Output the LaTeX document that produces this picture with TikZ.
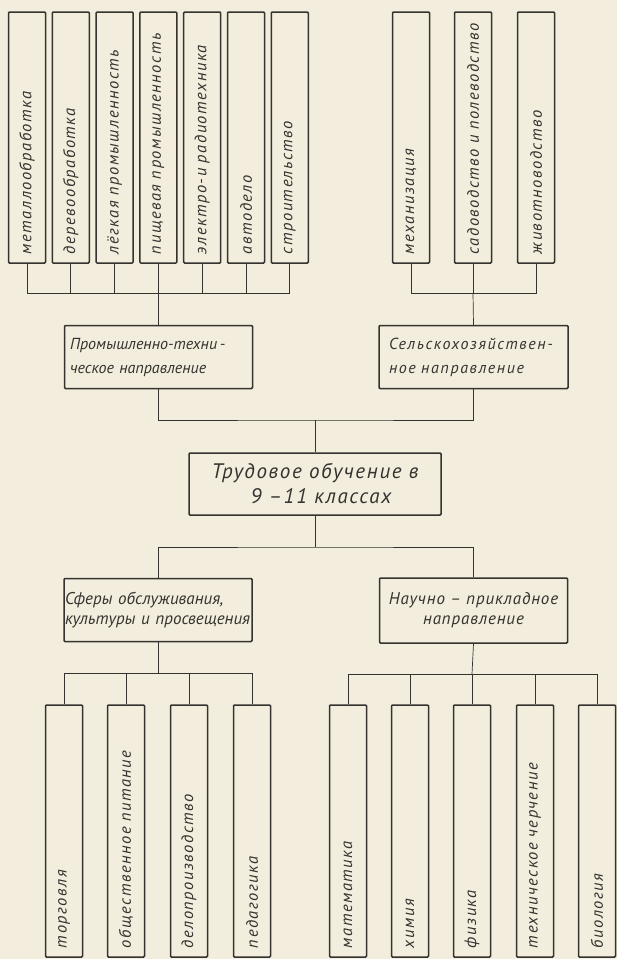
\documentclass[tikz,border=0pt]{standalone}
\usepackage{fontspec}
\newfontfamily\gostfont{PT Sans}
\newfontfamily\gostwide{PT Sans}[LetterSpace=9]
\newfontfamily\gostsel{PT Sans}[LetterSpace=10]
\newfontfamily\gosttrud{PT Sans}[LetterSpace=8]
\newfontfamily\gostnauch{PT Sans}[LetterSpace=5]
\definecolor{paper}{HTML}{F2EDDD}
\definecolor{ink}{HTML}{35332F}
\tikzset{
	box/.style={draw=ink, line width=1.5pt, rounded corners=1pt, text=ink, inner sep=0pt},
	vbox/.style={box, rotate=90, minimum width=251pt, minimum height=37pt,
		text width=233pt, inner xsep=9pt, align=left,
		font=\gostwide\itshape\fontsize{16.5}{19}\selectfont},
	dirbox/.style={box, minimum width=188pt, minimum height=63pt,
		font=\gostfont\itshape\fontsize{16}{24}\selectfont},
	link/.style={draw=ink, line width=0.7pt}
}

\begin{document}
\begin{tikzpicture}[x=1pt, y=-1pt]
			%%%%% START %%%%%
			
			\fill[paper] (0,0) rectangle (617,959);
			\useasboundingbox (0,0) rectangle (617,959);
			
			% top row
			\foreach \x/\lbl [count=\i] in {27/металлообработка, 70.8/деревообработка,
				114.6/лёгкая промышленность, 158.4/пищевая промышленность,
				202.2/электро-и радиотехника, 246/автодело, 289.8/строительство,
				411/механизация, 473/садоводство и полеводство, 536/животноводство}
				\node[vbox] (top\i) at (\x,137.5) {\mbox{\lbl}};
			
			% directions
			\node[dirbox, text width=177pt, inner xsep=5pt, align=left] (prom) at (158.5,357)
				{\mbox{Промышленно-техни\,-}\\ческое направление};
			\node[dirbox, text width=169pt, inner xsep=10pt, align=left,
				font=\gostsel\itshape\fontsize{16}{24}\selectfont] (selsk) at (473.5,357)
				{\mbox{Сельскохозяйствен-}\\ное направление};
			
			\node[dirbox, minimum width=252pt, minimum height=62pt, align=center,
				font=\gosttrud\itshape\fontsize{21}{25}\selectfont] (trud) at (315,484)
				{Трудовое обучение в\\\hspace*{12pt}9 –11 классах};
			
			\node[dirbox, text width=186pt, inner xsep=1pt, align=left,
				font=\gostfont\itshape\fontsize{17}{20}\selectfont] (sfera) at (158,610)
				{Сферы обслуживания,\\культуры и просвещения};
			\node[dirbox, minimum height=65pt, align=center,
				font=\gostnauch\itshape\fontsize{17}{20}\selectfont] (nauch) at (473.5,610.5)
				{Научно – прикладное\\направление};
			
			% bottom row
			\foreach \x/\lbl [count=\i] in {64/торговля, 126/общественное питание,
				189/делопроизводство, 252/педагогика, 348/математика, 410/химия,
				472/физика, 535/техническое черчение, 597/биология}
				\node[vbox, minimum width=252pt, text width=234pt] (bot\i) at (\x,831) {\mbox{\lbl}};
			
			% hubs of the tree
			\coordinate (promhub) at (158.4,293);
			\coordinate (selskhub) at (473,293);
			\coordinate (midhub) at (315,420);
			\coordinate (lowhub) at (315,547);
			\coordinate (sferahub) at (158,673);
			\coordinate (nauchhub) at (472,674);
			
			\foreach \i in {1,...,7}
				\draw[link] (top\i.west) |- (promhub);
			\foreach \i in {8,9,10}
				\draw[link] (top\i.west) |- (selskhub);
			\draw[link] (promhub) -- (prom.north);
			\draw[link] (selskhub) -- (selsk.north);
			
			\draw[link] (prom.south) |- (midhub) -| (selsk.south);
			\draw[link] (midhub) -- (trud.north);
			\draw[link] (trud.south) -- (lowhub);
			\draw[link] (sfera.north) |- (lowhub) -| (nauch.north);
			
			\draw[link] (sfera.south) -- (sferahub);
			\draw[link] (nauch.south) -- (nauchhub);
			\foreach \i in {1,...,4}
				\draw[link] (bot\i.east) |- (sferahub);
			\foreach \i in {5,...,9}
				\draw[link] (bot\i.east) |- (nauchhub);
			
			%%%%% END %%%%%
\end{tikzpicture}
\end{document}
